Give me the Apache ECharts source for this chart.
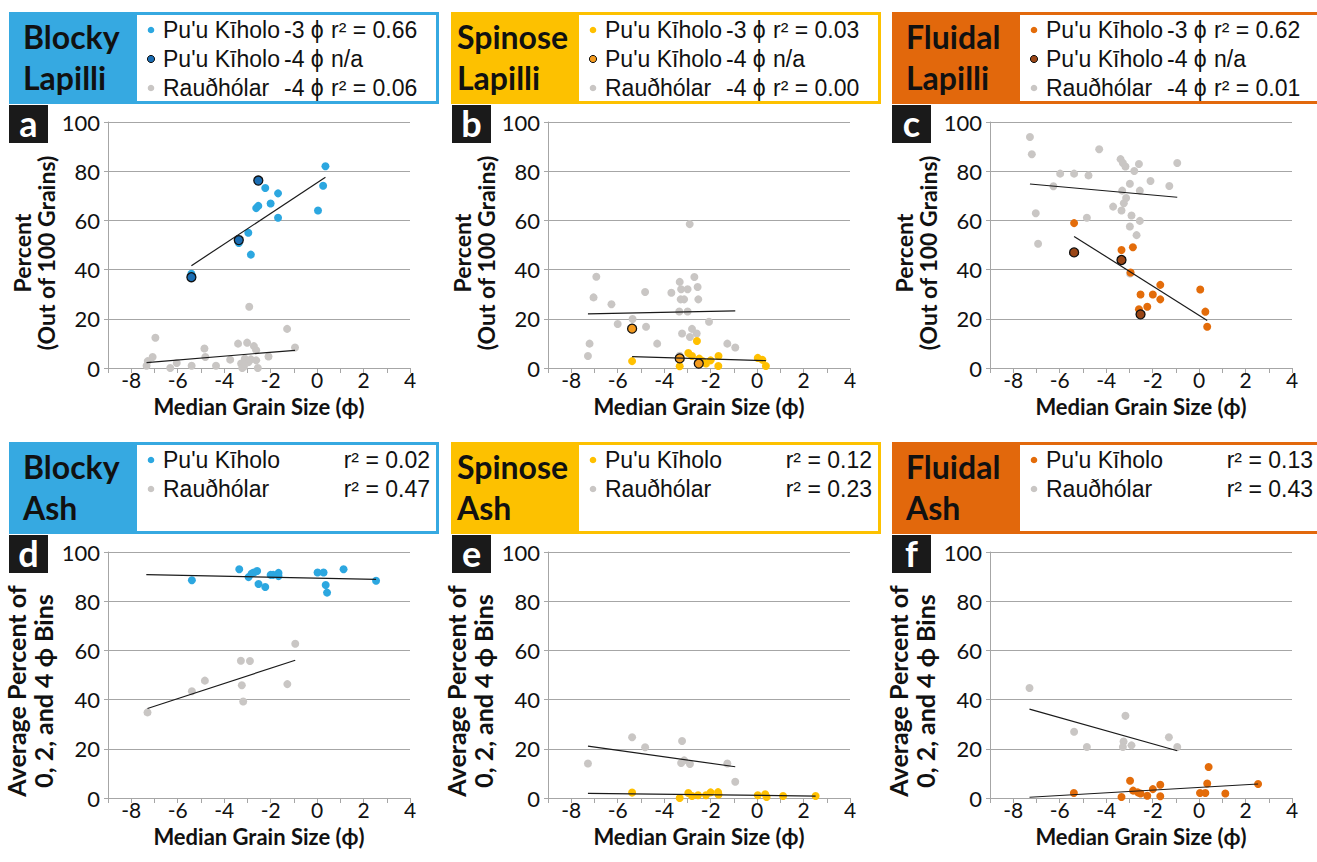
<!DOCTYPE html>
<html>
<head>
<meta charset="utf-8">
<script src="https://cdn.jsdelivr.net/npm/echarts/dist/echarts.min.js"></script>
<style>
  html, body { margin: 0; padding: 0; background: #fff; }
  #chart { width: 1317px; height: 862px; }
</style>
</head>
<body>
<div id="chart"></div>
<script>
// ---------- tick labels ----------
const xTickLabels = [-8, -6, -4, -2, 0, 2, 4];
const yTickLabels = [0, 20, 40, 60, 80, 100];

// ---------- panel a : Blocky Lapilli ----------
const a_pk3 = [[-5.41,38.3],[-3.37,50.8],[-2.96,55.0],[-2.85,46.1],[-2.62,65.0],[-2.53,65.9],[-2.23,73.2],[-2.00,66.9],[-1.68,71.0],[-1.68,61.1],[0.04,64.0],[0.26,74.1],[0.36,82.0]];
const a_pk4 = [[-5.41,36.9],[-3.37,52.0],[-2.53,76.2]];
const a_rh  = [[-7.34,0.9],[-7.29,2.8],[-7.08,4.5],[-6.96,12.3],[-6.32,0.0],[-6.04,2.0],[-5.40,0.9],[-4.85,7.9],[-4.81,4.5],[-4.35,0.9],[-3.74,3.4],[-3.40,9.9],[-3.27,1.8],[-3.22,0.0],[-3.15,0.6],[-3.11,3.8],[-3.01,10.3],[-2.95,2.4],[-2.92,24.9],[-2.85,3.5],[-2.72,8.9],[-2.62,7.2],[-2.62,3.1],[-2.55,0.0],[-2.09,4.7],[-1.29,15.9],[-0.95,8.3]];
const a_pk3_fit = [[-5.41,41.6],[0.36,77.5]];
const a_rh_fit  = [[-7.34,2.2],[-0.95,7.2]];

// ---------- panel b : Spinose Lapilli ----------
const b_pk3 = [[-5.38,2.8],[-3.33,0.7],[-2.96,6.1],[-2.80,4.9],[-2.59,11.0],[-2.49,3.8],[-2.34,2.8],[-2.20,1.8],[-2.00,3.1],[-1.66,4.9],[-1.67,0.8],[0.03,4.1],[0.23,3.3],[0.38,0.8]];
const b_pk4 = [[-5.38,16.0],[-3.33,3.9],[-2.51,1.8]];
const b_rh  = [[-6.92,37.1],[-7.04,28.7],[-6.27,25.9],[-7.21,9.9],[-7.28,4.9],[-6.00,17.9],[-5.36,19.9],[-4.82,30.9],[-4.78,16.8],[-4.30,9.9],[-3.69,30.6],[-3.33,35.0],[-3.27,32.0],[-2.99,32.0],[-3.29,27.9],[-3.14,27.9],[-3.35,23.0],[-2.99,23.0],[-2.90,58.5],[-2.70,37.0],[-2.56,32.9],[-2.53,27.9],[-3.23,14.0],[-2.80,15.9],[-2.89,12.6],[-2.60,14.0],[-2.07,18.8],[-1.28,9.9],[-0.94,8.3],[-3.33,5.0]];
const b_pk3_fit = [[-5.38,4.6],[0.38,3.0]];
const b_rh_fit  = [[-7.28,22.0],[-0.94,23.2]];

// ---------- panel c : Fluidal Lapilli ----------
const c_pk3 = [[-5.38,58.9],[-3.34,48.0],[-2.85,49.1],[-2.95,38.8],[-2.52,29.9],[-2.59,23.9],[-2.23,24.9],[-1.99,29.9],[-1.67,33.8],[-1.67,27.9],[0.05,31.9],[0.27,22.9],[0.35,16.8]];
const c_pk4 = [[-5.38,47.0],[-3.34,43.9],[-2.52,21.8]];
const c_rh  = [[-7.28,93.9],[-7.20,86.9],[-7.03,62.9],[-6.93,50.5],[-6.27,73.9],[-5.98,79.0],[-5.38,79.0],[-4.76,78.3],[-4.83,61.1],[-4.30,88.9],[-3.70,65.6],[-3.38,84.9],[-3.28,83.3],[-3.17,81.9],[-3.31,72.1],[-3.14,69.1],[-3.24,67.0],[-3.34,64.0],[-2.98,74.9],[-2.91,62.0],[-2.98,57.5],[-2.79,80.1],[-2.59,82.9],[-2.55,72.1],[-2.55,59.8],[-2.69,54.0],[-2.09,76.0],[-1.28,74.0],[-0.94,83.3],[-2.97,38.4]];
const c_pk3_fit = [[-5.38,53.5],[0.35,19.3]];
const c_rh_fit  = [[-7.28,74.8],[-0.94,69.4]];

// ---------- panel d : Blocky Ash ----------
const d_pk = [[-5.39,88.5],[-3.35,93.0],[-2.95,89.8],[-2.82,91.2],[-2.72,91.7],[-2.58,92.3],[-2.52,87.0],[-2.23,85.8],[-2.00,90.7],[-1.89,90.7],[-1.66,91.5],[-1.66,90.2],[0.02,91.7],[0.28,91.7],[0.37,86.6],[0.43,83.5],[1.14,93.0],[2.54,88.3]];
const d_rh = [[-7.30,34.8],[-5.39,43.4],[-4.83,47.7],[-3.28,55.8],[-2.89,55.7],[-3.24,45.8],[-3.18,39.2],[-1.28,46.3],[-0.94,62.7]];
const d_pk_fit = [[-7.35,90.8],[2.54,88.9]];
const d_rh_fit = [[-7.30,36.4],[-0.94,56.0]];

// ---------- panel e : Spinose Ash ----------
const e_pk = [[-5.38,2.2],[-3.33,0.0],[-2.96,2.0],[-2.80,0.8],[-2.54,1.1],[-2.20,1.1],[-2.00,2.3],[-1.68,2.4],[-1.66,1.4],[0.03,1.1],[0.35,1.5],[0.41,0.4],[1.12,0.8],[2.52,0.8]];
const e_rh = [[-7.28,14.0],[-5.38,24.7],[-4.82,20.6],[-3.23,23.2],[-3.27,14.2],[-3.14,15.3],[-2.89,13.8],[-1.28,14.0],[-0.94,6.6]];
const e_pk_fit = [[-7.28,1.9],[2.52,0.8]];
const e_rh_fit = [[-7.28,21.1],[-0.94,12.7]];

// ---------- panel f : Fluidal Ash ----------
const f_pk = [[-5.39,2.0],[-3.34,0.4],[-2.97,7.0],[-2.84,3.0],[-2.64,2.3],[-2.52,1.8],[-2.23,0.9],[-1.99,3.6],[-1.67,5.4],[-1.67,0.7],[0.04,2.0],[0.27,2.0],[0.41,12.6],[0.35,5.9],[1.13,1.8],[2.54,5.7]];
const f_rh = [[-7.30,44.7],[-5.38,26.9],[-4.83,20.7],[-3.17,33.4],[-3.25,23.0],[-3.28,20.7],[-2.91,21.4],[-1.30,24.7],[-0.94,20.7]];
const f_pk_fit = [[-7.30,0.3],[2.54,5.7]];
const f_rh_fit = [[-7.30,36.1],[-0.94,19.2]];

// ---------- legend texts ----------
const a_legend = [["Pu'u Kīholo","-3 ϕ","r² = 0.66"],["Pu'u Kīholo","-4 ϕ","n/a"],["Rauðhólar","-4 ϕ","r² = 0.06"]];
const b_legend = [["Pu'u Kīholo","-3 ϕ","r² = 0.03"],["Pu'u Kīholo","-4 ϕ","n/a"],["Rauðhólar","-4 ϕ","r² = 0.00"]];
const c_legend = [["Pu'u Kīholo","-3 ϕ","r² = 0.62"],["Pu'u Kīholo","-4 ϕ","n/a"],["Rauðhólar","-4 ϕ","r² = 0.01"]];
const d_legend = [["Pu'u Kīholo","","r² = 0.02"],["Rauðhólar","","r² = 0.47"]];
const e_legend = [["Pu'u Kīholo","","r² = 0.12"],["Rauðhólar","","r² = 0.23"]];
const f_legend = [["Pu'u Kīholo","","r² = 0.13"],["Rauðhólar","","r² = 0.43"]];

// ---------- styling ----------
const BLUE = '#2CA7E0', BLUE_HDR = '#36A9E1', BLUE_DK = '#1B6DB3';
const YEL = '#FFC000', YEL_HDR = '#FDC100', YEL_DK = '#F39A1E';
const ORG = '#E36C0A', ORG_HDR = '#E2680C', ORG_DK = '#9A4616';
const GRAY = '#C9C6C4';
const AXIS = '#A6A6A6';
const TXT = '#111111';
const LATO = 'Lato, "Open Sans", "DejaVu Sans", sans-serif';
const ARIAL = '"Liberation Sans", Arial, "DejaVu Sans", sans-serif';

const colX = [9, 451, 892];
const gridLeft = [108, 548, 990];
const rowY = [12, 442];
const gridTop = [122, 552];
const GW = 302, GH = 246;

const panels = [
  {c:0,r:0,letter:'a',title:['Blocky','Lapilli'],hdr:BLUE_HDR,main:BLUE,dk:BLUE_DK,pk:a_pk3,pk4:a_pk4,rh:a_rh,pkFit:a_pk3_fit,rhFit:a_rh_fit,legend:a_legend},
  {c:1,r:0,letter:'b',title:['Spinose','Lapilli'],hdr:YEL_HDR,main:YEL,dk:YEL_DK,pk:b_pk3,pk4:b_pk4,rh:b_rh,pkFit:b_pk3_fit,rhFit:b_rh_fit,legend:b_legend},
  {c:2,r:0,letter:'c',title:['Fluidal','Lapilli'],hdr:ORG_HDR,main:ORG,dk:ORG_DK,pk:c_pk3,pk4:c_pk4,rh:c_rh,pkFit:c_pk3_fit,rhFit:c_rh_fit,legend:c_legend},
  {c:0,r:1,letter:'d',title:['Blocky','Ash'],hdr:BLUE_HDR,main:BLUE,pk:d_pk,rh:d_rh,pkFit:d_pk_fit,rhFit:d_rh_fit,legend:d_legend},
  {c:1,r:1,letter:'e',title:['Spinose','Ash'],hdr:YEL_HDR,main:YEL,pk:e_pk,rh:e_rh,pkFit:e_pk_fit,rhFit:e_rh_fit,legend:e_legend},
  {c:2,r:1,letter:'f',title:['Fluidal','Ash'],hdr:ORG_HDR,main:ORG,pk:f_pk,rh:f_rh,pkFit:f_pk_fit,rhFit:f_rh_fit,legend:f_legend}
];

const grids = [], xAxes = [], yAxes = [], series = [], graphics = [];

panels.forEach((p, i) => {
  const gl = gridLeft[p.c], gt = gridTop[p.r];
  grids.push({left: gl, top: gt, width: GW, height: GH, containLabel: false});
  xAxes.push({
    type: 'value', gridIndex: i, min: -9, max: 4, interval: 1,
    name: 'Median Grain Size (ϕ)', nameLocation: 'middle', nameGap: 26,
    nameTextStyle: {fontFamily: LATO, fontWeight: 'bold', fontSize: 22, lineHeight: 24, color: TXT},
    axisLine: {show: true, onZero: false, lineStyle: {color: AXIS, width: 1}},
    axisTick: {show: true, length: 5, lineStyle: {color: AXIS}},
    splitLine: {show: false},
    axisLabel: {interval: 0, margin: 2, fontFamily: LATO, fontSize: 21, lineHeight: 19, color: TXT,
      formatter: v => xTickLabels.includes(v) ? String(v) : ''}
  });
  yAxes.push({
    type: 'value', gridIndex: i, min: 0, max: 100, interval: 20,
    name: p.r === 0 ? 'Percent\n(Out of 100 Grains)' : 'Average Percent of\n0, 2, and 4 ϕ Bins',
    nameLocation: 'middle', nameRotate: 90, nameGap: p.r === 0 ? 50 : 52,
    nameTextStyle: {fontFamily: LATO, fontWeight: 'bold', fontSize: p.r === 0 ? 23 : 25,
      lineHeight: p.r === 0 ? 24 : 27, color: TXT,
      padding: p.r === 0 ? [0, 16, 0, 0] : [0, 32, 0, 0]},
    axisLine: {show: true, onZero: false, lineStyle: {color: AXIS, width: 1}},
    axisTick: {show: true, length: 4, lineStyle: {color: AXIS}},
    splitLine: {show: true, lineStyle: {color: AXIS, width: 1}},
    axisLabel: {margin: 8, fontFamily: LATO, fontSize: 22, color: TXT,
      formatter: v => yTickLabels.includes(v) ? String(v) : ''}
  });
  series.push({type: 'scatter', xAxisIndex: i, yAxisIndex: i, data: p.rh, symbolSize: 8,
    itemStyle: {color: GRAY, opacity: 1}, z: 2, silent: true});
  series.push({type: 'scatter', xAxisIndex: i, yAxisIndex: i, data: p.pk, symbolSize: 8,
    itemStyle: {color: p.main, opacity: 1}, z: 3, silent: true});
  if (p.pk4) {
    series.push({type: 'scatter', xAxisIndex: i, yAxisIndex: i, data: p.pk4, symbolSize: 9,
      itemStyle: {color: p.dk, borderColor: '#111', borderWidth: 1.3, opacity: 1}, z: 4, silent: true});
  }
  [p.rhFit, p.pkFit].forEach(fit => {
    series.push({type: 'line', xAxisIndex: i, yAxisIndex: i, data: fit, showSymbol: false, symbol: 'none',
      lineStyle: {color: '#1a1a1a', width: 1.2}, z: 5, silent: true, animation: false});
  });

  // header
  const x0 = colX[p.c], y0 = rowY[p.r];
  graphics.push({type: 'rect', shape: {x: x0, y: y0, width: 430, height: 92}, style: {fill: p.hdr}, silent: true});
  graphics.push({type: 'rect', shape: {x: x0 + 128, y: y0 + 3, width: 299, height: 86}, style: {fill: '#fff'}, silent: true});
  const tx = p.title[0] === 'Spinose' ? x0 + 6 : x0 + 14;
  graphics.push({type: 'text', x: tx, y: y0 + 24, style: {text: p.title[0], font: 'bold 32px ' + LATO, fill: TXT, textVerticalAlign: 'middle'}, silent: true});
  graphics.push({type: 'text', x: tx, y: y0 + 65, style: {text: p.title[1], font: 'bold 32px ' + LATO, fill: TXT, textVerticalAlign: 'middle'}, silent: true});
  p.legend.forEach((row, k) => {
    const cy = y0 + 18 + k * 29;
    let dot = GRAY, stroke = null;
    if (p.r === 0) { dot = k === 0 ? p.main : (k === 1 ? p.dk : GRAY); if (k === 1) stroke = '#111'; }
    else { dot = k === 0 ? p.main : GRAY; }
    graphics.push({type: 'circle', shape: {cx: x0 + 142, cy: cy, r: stroke ? 3.6 : 3.3},
      style: {fill: dot, stroke: stroke, lineWidth: stroke ? 1 : 0}, silent: true});
    graphics.push({type: 'text', x: x0 + 154, y: cy, style: {text: row[0], font: '23px ' + ARIAL, fill: TXT, textVerticalAlign: 'middle'}, silent: true});
    if (p.r === 0) {
      graphics.push({type: 'text', x: x0 + 275, y: cy, style: {text: row[1], font: '23px ' + ARIAL, fill: TXT, textVerticalAlign: 'middle'}, silent: true});
      graphics.push({type: 'text', x: x0 + 322, y: cy, style: {text: row[2], font: '23px ' + ARIAL, fill: TXT, textVerticalAlign: 'middle'}, silent: true});
    } else {
      graphics.push({type: 'text', x: x0 + 421, y: cy, style: {text: row[2], font: '23px ' + ARIAL, fill: TXT, textAlign: 'right', textVerticalAlign: 'middle'}, silent: true});
    }
  });
  // panel letter
  const lx = x0 + (p.c === 1 ? 1 : 0);
  graphics.push({type: 'rect', shape: {x: lx, y: y0 + 93, width: 39, height: 38}, style: {fill: '#1a1a1a'}, silent: true});
  graphics.push({type: 'text', x: lx + 19.5, y: y0 + 111, style: {text: p.letter, font: 'bold 36px ' + LATO, fill: '#fff', textAlign: 'center', textVerticalAlign: 'middle'}, silent: true});
});

const chart = echarts.init(document.getElementById('chart'), null, {renderer: 'svg'});
chart.setOption({
  animation: false,
  backgroundColor: '#fff',
  grid: grids,
  xAxis: xAxes,
  yAxis: yAxes,
  series: series,
  graphic: graphics
});
</script>
</body>
</html>
